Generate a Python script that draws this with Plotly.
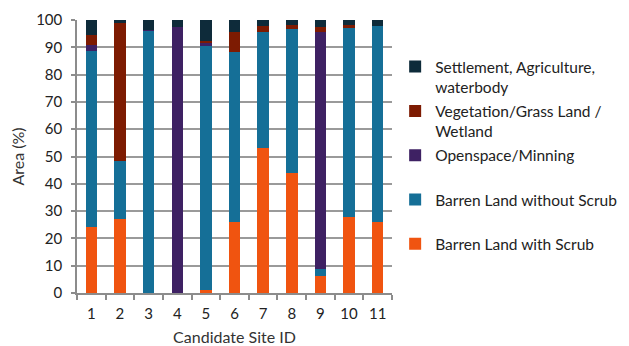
import plotly.graph_objects as go

sites = [str(i) for i in range(1, 12)]
scrub = [24.2, 27.0, 0.0, 0.0, 1.0, 26.0, 53.2, 43.8, 6.3, 28.0, 26.1]
barren = [64.3, 21.5, 96.0, 0.0, 89.8, 62.2, 42.5, 52.9, 2.4, 69.0, 71.7]
openspace = [2.5, 0.0, 0.3, 97.5, 0.6, 0.0, 0.0, 0.0, 86.9, 0.0, 0.0]
vegetation = [3.5, 50.3, 0.0, 0.0, 0.8, 7.4, 2.1, 1.6, 1.9, 1.2, 0.0]
settlement = [5.5, 1.2, 3.7, 2.5, 7.8, 4.4, 2.2, 1.7, 2.5, 1.8, 2.2]

series = [
    ("Barren Land with Scrub<br> ", scrub, "#f05410"),
    ("Barren Land without Scrub<br> ", barren, "#156f97"),
    ("Openspace/Minning<br> ", openspace, "#3e2163"),
    ("Vegetation/Grass Land /<br>Wetland", vegetation, "#7d1b02"),
    ("Settlement, Agriculture,<br>waterbody", settlement, "#0e2b3a"),
]

fig = go.Figure()
for i, (name, vals, color) in enumerate(series):
    fig.add_trace(go.Bar(x=sites, y=vals, name=name, marker_color=color,
                         marker_line_width=0, legendgroup=name,
                         legendrank=1000 - i))

font = "Lato, 'Open Sans', sans-serif"
fig.update_layout(
    barmode="stack",
    bargap=0.6,
    width=621, height=338,
    margin=dict(l=69, r=237, t=12, b=53, autoexpand=False),
    plot_bgcolor="white", paper_bgcolor="white",
    font=dict(family=font, size=14, color="#333333"),
    legend=dict(traceorder="grouped", x=1.01, y=0.89, yanchor="top",
                xanchor="left", tracegroupgap=1, valign="top",
                font=dict(size=15.5, color="#222222"), itemwidth=30),
    xaxis=dict(title=dict(text="Candidate Site ID", standoff=20, font=dict(size=16)),
               type="category", automargin=False,
               showline=True, linecolor="#8c8c8c", linewidth=1.5,
               ticks="outside", tickson="boundaries", ticklen=5, tickcolor="#8c8c8c",
               tickwidth=1.5, ticklabelstandoff=6, tickfont=dict(size=15, color="#222222")),
    yaxis=dict(title=dict(text="Area (%)", standoff=12, font=dict(size=16)),
               range=[0, 100], dtick=10, automargin=False,
               showgrid=True, gridcolor="#9a9a9a", gridwidth=1.5,
               showline=True, linecolor="#8c8c8c", linewidth=1.5,
               ticks="outside", ticklen=4, tickcolor="#8c8c8c", tickwidth=1.5,
               ticklabelstandoff=6, tickfont=dict(size=15, color="#222222")),
)
fig.write_html("out.html")
